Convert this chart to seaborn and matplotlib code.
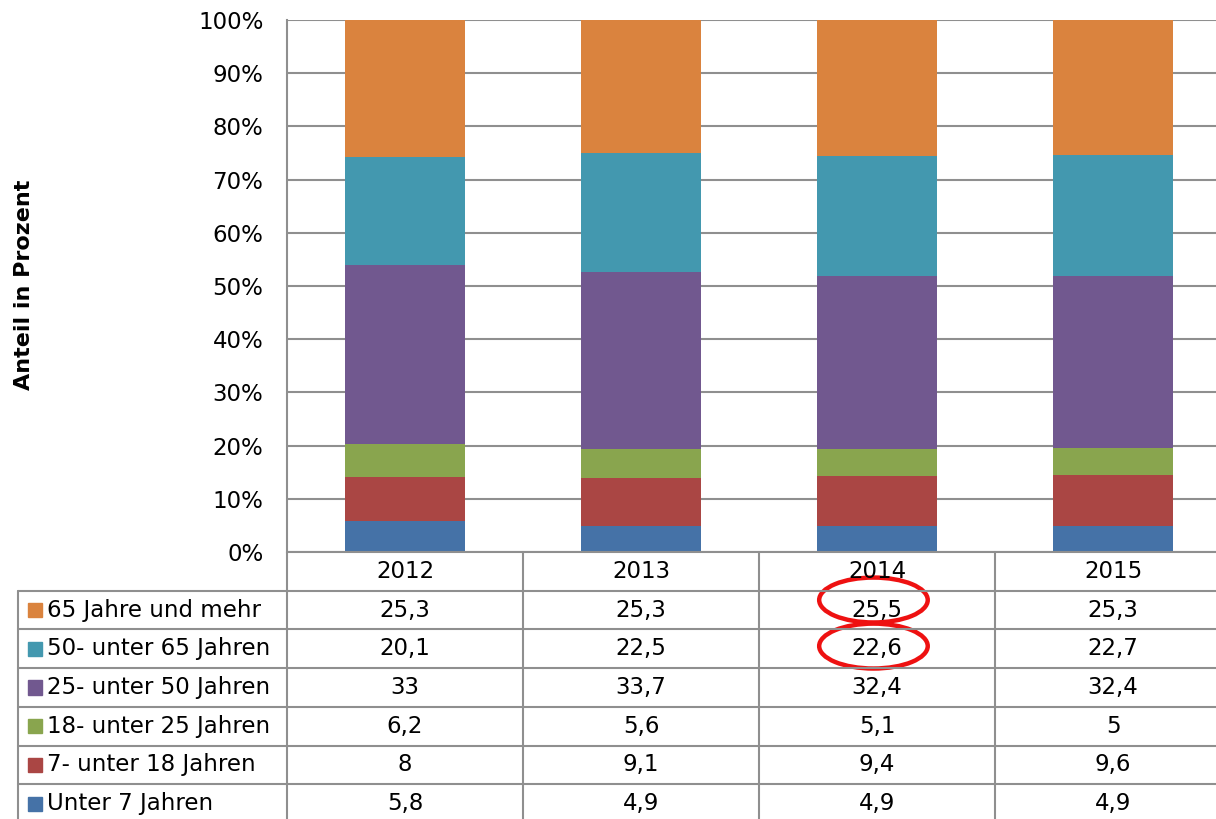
import pandas as pd
import seaborn as sns
import matplotlib.pyplot as plt
from matplotlib.patches import Rectangle, Ellipse

years = ["2012", "2013", "2014", "2015"]
groups = ["65 Jahre und mehr", "50- unter 65 Jahren", "25- unter 50 Jahren",
          "18- unter 25 Jahren", "7- unter 18 Jahren", "Unter 7 Jahren"]
v65 = [25.3, 25.3, 25.5, 25.3]
v50 = [20.1, 22.5, 22.6, 22.7]
v25 = [33, 33.7, 32.4, 32.4]
v18 = [6.2, 5.6, 5.1, 5]
v7 = [8, 9.1, 9.4, 9.6]
v0 = [5.8, 4.9, 4.9, 4.9]
colors = ["#DA833E", "#4398AF", "#71588F", "#89A54E", "#AA4644", "#4572A7"]
# cells circled in red in the table
marked = [("2014", "65 Jahre und mehr"), ("2014", "50- unter 65 Jahren")]
ring_shift = [-0.26, -0.07]

df = pd.DataFrame([v65, v50, v25, v18, v7, v0], index=groups, columns=years)
pct = df / df.sum() * 100
cum = pct[::-1].cumsum()[::-1]

sns.set_style("white")
plt.rcParams["font.family"] = ["DejaVu Sans"]
plt.rcParams["text.color"] = "black"
plt.rcParams["ytick.color"] = "black"
grid_c = "#8f8f8f"
fs = 16.5


def fmt(v):
    return f"{v:g}".replace(".", ",")


fig = plt.figure(figsize=(12.16, 8.19), dpi=100)
ax = fig.add_axes([287 / 1216, 1 - 552 / 819, 944 / 1216, 532 / 819])

for g, c in zip(groups, colors):
    sns.barplot(x=years, y=cum.loc[g].values, color=c, saturation=1,
                width=0.51, ax=ax, edgecolor="none")

ax.set_xlim(-0.5, 3.5)
ax.set_ylim(0, 100)
ax.set_yticks(range(0, 101, 10))
ax.set_yticklabels([f"{t}%" for t in range(0, 101, 10)], fontsize=fs,
                   color="black")
ax.set_xticks([])
ax.set_xlabel("")
ax.tick_params(axis="y", length=0, pad=17)
ax.set_axisbelow(True)
ax.yaxis.grid(True, color=grid_c, lw=1.5)
for s in ["top", "right", "bottom"]:
    ax.spines[s].set_visible(False)
ax.spines["left"].set_color(grid_c)
ax.spines["left"].set_linewidth(1.5)

fig.text(24 / 1216, 1 - 285 / 819, "Anteil in Prozent", rotation=90,
         ha="center", va="center", fontsize=16, fontweight="bold",
         color="black")

# data table below the chart
x0 = -0.5 - 269 / 236
tax = fig.add_axes([18 / 1216, -4 / 819, 1213 / 1216, 271 / 819])
tax.set_xlim(x0, 3.5)
tax.set_ylim(7, 0)
tax.axis("off")

lk = dict(color=grid_c, lw=1.5, clip_on=False)
tax.plot([-0.5, 3.5], [0, 0], **lk)
for r in range(1, 7):
    tax.plot([x0, 3.5], [r, r], **lk)
for xv in [-0.5, 0.5, 1.5, 2.5]:
    tax.plot([xv, xv], [0, 7], **lk)
tax.plot([x0, x0], [1, 7], **lk)

for i, y in enumerate(years):
    tax.text(i, 0.5, y, ha="center", va="center", fontsize=fs, color="black")

for r, (g, c) in enumerate(zip(groups, colors), start=1):
    sq_w, sq_h = 14 / 236, 14 / 38.7
    tax.add_patch(Rectangle((x0 + 10 / 236, r + 0.5 - sq_h / 2), sq_w, sq_h,
                            color=c, clip_on=False))
    tax.text(x0 + 29 / 236, r + 0.5, g, ha="left", va="center", fontsize=fs,
             color="black")
    for i, y in enumerate(years):
        tax.text(i, r + 0.5, fmt(df.loc[g, y]), ha="center", va="center",
                 fontsize=fs, color="black")

for (y, g), dy in zip(marked, ring_shift):
    cx = years.index(y) - 0.015
    cy = groups.index(g) + 1.5 + dy
    tax.add_patch(Ellipse((cx, cy), 0.46, 1.16, fill=False, ec="#EE1111",
                          lw=3.2, clip_on=False))

fig.savefig("out.png", dpi=100)
